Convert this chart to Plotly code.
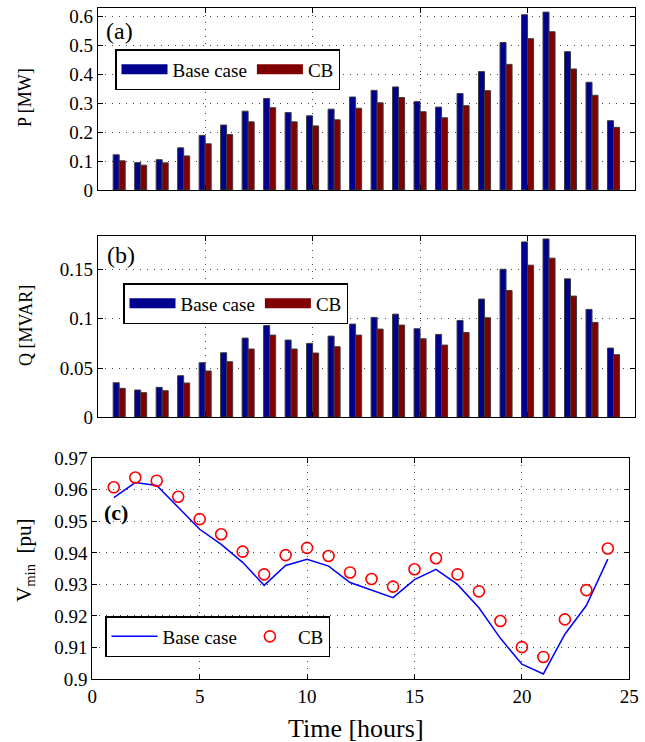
import plotly.graph_objects as go

hours = list(range(1, 25))

p_base = [0.122, 0.095, 0.105, 0.146, 0.189, 0.225, 0.273, 0.317, 0.268, 0.257, 0.280, 0.322,
          0.345, 0.357, 0.306, 0.287, 0.334, 0.410, 0.511, 0.607, 0.616, 0.479, 0.373, 0.240]
p_cb = [0.101, 0.086, 0.094, 0.118, 0.160, 0.192, 0.236, 0.285, 0.236, 0.222, 0.243, 0.283,
        0.302, 0.320, 0.271, 0.250, 0.292, 0.344, 0.435, 0.524, 0.548, 0.419, 0.328, 0.217]

q_base = [0.0351, 0.0277, 0.0304, 0.0422, 0.0554, 0.0655, 0.0804, 0.0932, 0.0784, 0.0750, 0.0824, 0.0946,
          0.1014, 0.1047, 0.0899, 0.0841, 0.0983, 0.1200, 0.1503, 0.1780, 0.1810, 0.1405, 0.1095, 0.0703]
q_cb = [0.0294, 0.0250, 0.0270, 0.0348, 0.0470, 0.0564, 0.0693, 0.0834, 0.0693, 0.0652, 0.0716, 0.0834,
        0.0895, 0.0936, 0.0797, 0.0733, 0.0861, 0.1010, 0.1287, 0.1544, 0.1615, 0.1230, 0.0963, 0.0635]

v_base = [0.9575, 0.9623, 0.9614, 0.9545, 0.9475, 0.9427, 0.9370, 0.9297, 0.9360, 0.9380, 0.9358, 0.9306,
          0.9282, 0.9258, 0.9315, 0.9348, 0.9300, 0.9226, 0.9129, 0.9047, 0.9016, 0.9142, 0.9233, 0.9380]
v_cb = [0.9608, 0.9639, 0.9629, 0.9578, 0.9507, 0.9459, 0.9404, 0.9332, 0.9393, 0.9416, 0.9390, 0.9338,
        0.9317, 0.9293, 0.9348, 0.9383, 0.9332, 0.9278, 0.9184, 0.9101, 0.9070, 0.9189, 0.9282, 0.9414]

x_ticks = [0, 5, 10, 15, 20, 25]
p_ticks = [0, 0.1, 0.2, 0.3, 0.4, 0.5, 0.6]
p_labels = ["0", "0.1", "0.2", "0.3", "0.4", "0.5", "0.6"]
q_ticks = [0, 0.05, 0.1, 0.15]
q_labels = ["0", "0.05", "0.1", "0.15"]
v_ticks = [0.9, 0.91, 0.92, 0.93, 0.94, 0.95, 0.96, 0.97]
v_labels = ["0.9", "0.91", "0.92", "0.93", "0.94", "0.95", "0.96", "0.97"]

BLUE = "rgb(0,0,143)"
RED = "rgb(128,0,0)"
FONT = "Liberation Serif"
W, H = 645, 742

fig = go.Figure()

bar_line = dict(color="rgb(60,60,60)", width=1)
fig.add_trace(go.Bar(x=hours, y=p_base, name="Base case", marker=dict(color=BLUE, line=bar_line),
                     xaxis="x", yaxis="y", showlegend=False))
fig.add_trace(go.Bar(x=hours, y=p_cb, name="CB", marker=dict(color=RED, line=bar_line),
                     xaxis="x", yaxis="y", showlegend=False))
fig.add_trace(go.Bar(x=hours, y=q_base, name="Base case", marker=dict(color=BLUE, line=bar_line),
                     xaxis="x2", yaxis="y2", showlegend=False))
fig.add_trace(go.Bar(x=hours, y=q_cb, name="CB", marker=dict(color=RED, line=bar_line),
                     xaxis="x2", yaxis="y2", showlegend=False))

# legend swatches for the bar panels (wide rectangles like the original)
for leg, xa, ya in [("legend", "x", "y"), ("legend2", "x2", "y2")]:
    for name, col in [("Base case", BLUE), ("CB", RED)]:
        fig.add_trace(go.Scatter(x=[None], y=[None], mode="lines", name=name,
                                 line=dict(color=col, width=14), xaxis=xa, yaxis=ya, legend=leg))

fig.add_trace(go.Scatter(x=hours, y=v_base, name="Base case", mode="lines",
                         line=dict(color="rgb(0,0,255)", width=1.5),
                         xaxis="x3", yaxis="y3", legend="legend3"))
fig.add_trace(go.Scatter(x=hours, y=v_cb, name="CB", mode="markers",
                         marker=dict(symbol="circle-open", size=11, color="rgb(255,0,0)",
                                     line=dict(width=1.6, color="rgb(255,0,0)")),
                         xaxis="x3", yaxis="y3", legend="legend3"))


def px_x(a, b):
    return [a / W, b / W]


def px_y(top, bottom):
    return [1 - bottom / H, 1 - top / H]


common = dict(showline=True, linecolor="black", linewidth=1, mirror="ticks", ticks="inside",
              ticklen=5, tickcolor="black", showgrid=True, gridcolor="rgb(70,70,70)",
              griddash="1px,6px", gridwidth=1, zeroline=False, automargin=False,
              tickfont=dict(family=FONT, size=19, color="black"))

legend_common = dict(xanchor="left", yanchor="top", orientation="h",
                     bgcolor="white", bordercolor="black", borderwidth=1.5,
                     font=dict(family=FONT, size=19, color="black"), itemwidth=46)

fig.update_layout(
    width=W, height=H, margin=dict(l=0, r=0, t=0, b=0),
    paper_bgcolor="white", plot_bgcolor="white",
    barmode="group", bargap=0.44, bargroupgap=0.0,
    font=dict(family=FONT, color="black"),
    xaxis=dict(common, domain=px_x(97.7, 635), range=[0, 25], tickvals=x_ticks, showticklabels=False,
               anchor="y"),
    yaxis=dict(common, domain=px_y(7.5, 190), range=[0, 0.632], tickvals=p_ticks, ticktext=p_labels,
               anchor="x"),
    xaxis2=dict(common, domain=px_x(97.7, 635), range=[0, 25], tickvals=x_ticks, showticklabels=False,
                anchor="y2"),
    yaxis2=dict(common, domain=px_y(236, 417.3), range=[0, 0.184], tickvals=q_ticks, ticktext=q_labels,
                anchor="x2"),
    xaxis3=dict(common, domain=px_x(92.3, 629.3), range=[0, 25], tickvals=x_ticks,
                ticktext=[str(t) for t in x_ticks], anchor="y3"),
    yaxis3=dict(common, domain=px_y(458.3, 679), range=[0.9, 0.97], tickvals=v_ticks, ticktext=v_labels,
                anchor="x3"),
    legend=dict(legend_common, x=115 / W, y=1 - 49 / H),
    legend2=dict(legend_common, x=123 / W, y=1 - 283 / H),
    legend3=dict(legend_common, x=105 / W, y=1 - 616 / H),
    showlegend=True,
)

ann = [
    dict(text="(a)", x=104 / W, y=1 - 31 / H, xanchor="left", yanchor="middle", font=dict(size=24)),
    dict(text="(b)", x=105 / W, y=1 - 255 / H, xanchor="left", yanchor="middle", font=dict(size=24)),
    dict(text="<b>(c)</b>", x=102 / W, y=1 - 512 / H, xanchor="left", yanchor="middle", font=dict(size=22)),
    dict(text="P [MW]", x=25 / W, y=1 - 98 / H, textangle=-90, xanchor="center", yanchor="middle",
         font=dict(size=18)),
    dict(text="Q [MVAR]", x=26 / W, y=1 - 326 / H, textangle=-90, xanchor="center", yanchor="middle",
         font=dict(size=18)),
    dict(text="V<sub>min</sub>  [pu]", x=25 / W, y=1 - 560 / H, textangle=-90, xanchor="center",
         yanchor="middle", font=dict(size=21)),
    dict(text="Time [hours]", x=356 / W, y=1 - 728 / H, xanchor="center", yanchor="middle",
         font=dict(size=26)),
]
for a in ann:
    a.update(xref="paper", yref="paper", showarrow=False)
    a["font"] = dict(family=FONT, color="black", **a["font"])
fig.update_layout(annotations=ann)

fig.write_html("out.html")
